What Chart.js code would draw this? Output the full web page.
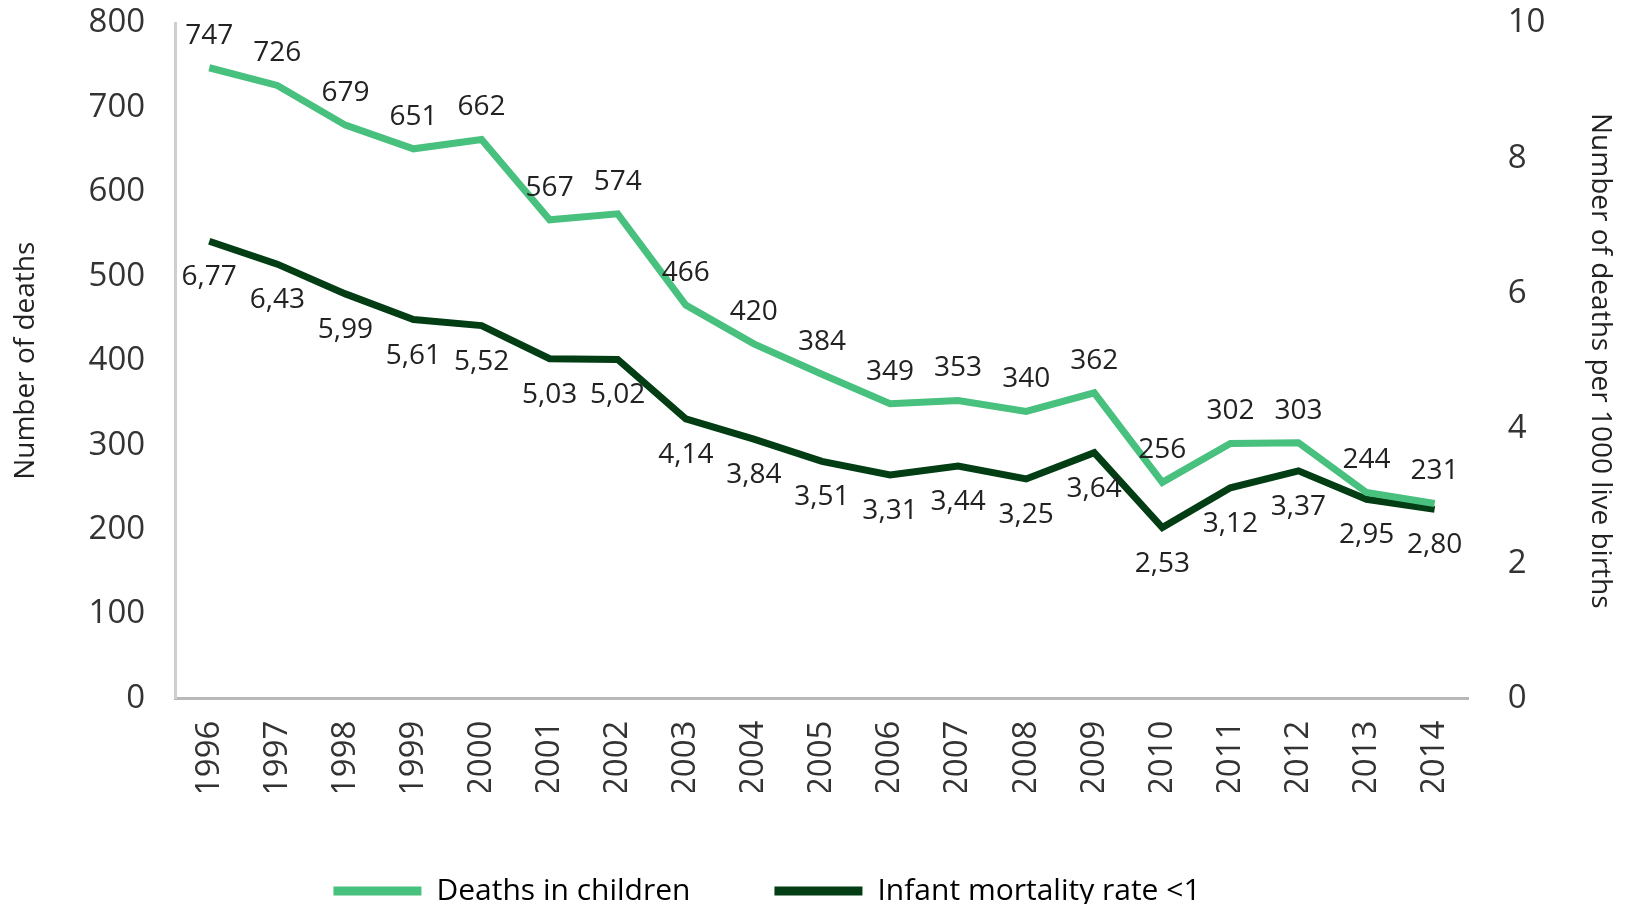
<!DOCTYPE html>
<html>
<head>
<meta charset="utf-8">
<script src="https://cdn.jsdelivr.net/npm/chart.js@4"></script>
<style>
  html, body { margin: 0; padding: 0; background: #fff; }
  #wrap { width: 1626px; height: 904px; }
</style>
</head>
<body>
<div id="wrap"><canvas id="myChart"></canvas></div>
<script>
// DATA
const years = ["1996", "1997", "1998", "1999", "2000", "2001", "2002", "2003", "2004", "2005",
               "2006", "2007", "2008", "2009", "2010", "2011", "2012", "2013", "2014"];
const deathsInChildren = [747, 726, 679, 651, 662, 567, 574, 466, 420, 384, 349, 353, 340, 362, 256, 302, 303, 244, 231];
const infantMortality = [6.77, 6.43, 5.99, 5.61, 5.52, 5.03, 5.02, 4.14, 3.84, 3.51, 3.31, 3.44, 3.25, 3.64, 2.53, 3.12, 3.37, 2.95, 2.80];
const leftTicks = [0, 100, 200, 300, 400, 500, 600, 700, 800];
const rightTicks = [0, 2, 4, 6, 8, 10];

const GREEN = "#48c07e";
const DARK = "#023d14";
const FONT = "'Open Sans', 'Noto Sans', sans-serif";

// draws the value next to every point
const valueLabels = {
    id: "valueLabels",
    afterDatasetsDraw(chart) {
        const ctx = chart.ctx;
        ctx.save();
        ctx.font = "28px " + FONT;
        ctx.fillStyle = "#222";
        ctx.textAlign = "center";
        ctx.textBaseline = "middle";
        chart.data.datasets.forEach((ds, i) => {
            const meta = chart.getDatasetMeta(i);
            meta.data.forEach((pt, j) => {
                const v = ds.data[j];
                if (i === 0) {
                    ctx.fillText(String(v), pt.x, pt.y - 32);
                } else {
                    ctx.fillText(v.toFixed(2).replace(".", ","), pt.x, pt.y + 36);
                }
            });
        });
        ctx.restore();
    }
};

// legend sits a bit left of centre in the original
const legendShift = {
    id: "legendShift",
    afterLayout(chart) {
        chart.legend.left -= 46;
        chart.legend.right -= 46;
    }
};

const ctx1 = document.getElementById("myChart").getContext("2d");
const myChart = new Chart(ctx1, {
    type: "line",
    data: {
        labels: years,
        datasets: [
            {
                label: "Deaths in children",
                data: deathsInChildren,
                borderColor: GREEN,
                backgroundColor: GREEN,
                borderWidth: 7,
                pointRadius: 0,
                tension: 0,
                yAxisID: "y",
            },
            {
                label: "Infant mortality rate <1",
                data: infantMortality,
                borderColor: DARK,
                backgroundColor: DARK,
                borderWidth: 7,
                pointRadius: 0,
                tension: 0,
                yAxisID: "y2",
            },
        ],
    },
    options: {
        responsive: true,
        maintainAspectRatio: false,
        animation: false,
        layout: { padding: { top: 23, right: 9, left: 9, bottom: -12 } },
        plugins: {
            tooltip: { enabled: false },
            legend: {
                position: "bottom",
                labels: {
                    font: { family: FONT, size: 30 },
                    color: "#222",
                    boxWidth: 88,
                    boxHeight: 9,
                    padding: 84,
                    generateLabels(chart) {
                        return chart.data.datasets.map((ds, i) => ({
                            text: ds.label,
                            fillStyle: ds.borderColor,
                            strokeStyle: ds.borderColor,
                            lineWidth: 0,
                            datasetIndex: i,
                        }));
                    },
                },
            },
        },
        scales: {
            x: {
                offset: true,
                grid: { display: false, drawTicks: false },
                border: { color: "#b8b8b8", width: 3 },
                ticks: {
                    color: "#333",
                    font: { family: FONT, size: 33 },
                    minRotation: 90,
                    maxRotation: 90,
                    padding: 22,
                },
                // labels may run into the empty top part of the legend box
                afterFit(axis) { axis.height -= 26; },
            },
            y: {
                position: "left",
                min: 0,
                max: 800,
                afterBuildTicks(axis) { axis.ticks = leftTicks.map(v => ({ value: v })); },
                grid: { display: false, drawTicks: true, tickLength: 28 },
                border: { color: "#cfcfcf", width: 3 },
                ticks: {
                    color: "#333",
                    font: { family: FONT, size: 33 },
                    padding: 2,
                },
                title: {
                    display: true,
                    text: "Number of deaths",
                    color: "#222",
                    font: { family: FONT, size: 28 },
                    padding: { top: 0, bottom: 44 },
                },
            },
            y2: {
                position: "right",
                min: 0,
                max: 10,
                afterBuildTicks(axis) { axis.ticks = rightTicks.map(v => ({ value: v })); },
                grid: { display: false, drawTicks: true, tickLength: 37 },
                border: { display: false },
                ticks: {
                    color: "#333",
                    font: { family: FONT, size: 33 },
                    padding: 2,
                },
                title: {
                    display: true,
                    text: "Number of deaths per 1000 live births",
                    color: "#222",
                    font: { family: FONT, size: 28 },
                    padding: { top: 0, bottom: 36 },
                },
            },
        },
    },
    plugins: [valueLabels, legendShift],
});
</script>
</body>
</html>
